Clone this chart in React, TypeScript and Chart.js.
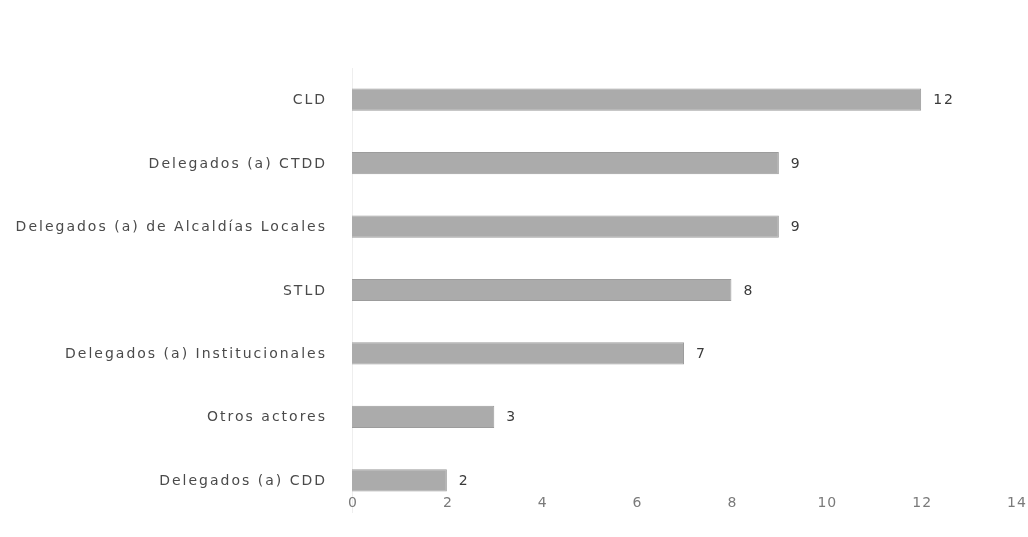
import React, { useEffect, useRef } from "react";
import { Chart, registerables } from "chart.js";

Chart.register(...registerables);

const categories = [
  "CLD",
  "Delegados (a) CTDD",
  "Delegados (a) de Alcaldías Locales",
  "STLD",
  "Delegados (a) Institucionales",
  "Otros actores",
  "Delegados (a) CDD",
];
const values = [12, 9, 9, 8, 7, 3, 2];
const xMin = 0;
const xMax = 14;
const xStep = 2;

const FONT = "'DejaVu Sans', sans-serif";

const textPlugin = {
  id: "textPlugin",
  afterDraw(chart: any) {
    const ctx = chart.ctx;
    const area = chart.chartArea;
    const xs = chart.scales.x;
    const ys = chart.scales.y;
    const meta = chart.getDatasetMeta(0);
    ctx.save();
    // category labels
    ctx.font = `14px ${FONT}`;
    (ctx as any).letterSpacing = "2px";
    ctx.fillStyle = "#4a4a4a";
    ctx.textAlign = "right";
    ctx.textBaseline = "middle";
    ys.ticks.forEach((t: any, i: number) => {
      const y = ys.getPixelForTick(i);
      ctx.fillText(String(categories[t.value] ?? t.label), area.left - 25, y + 1);
    });
    // value labels
    ctx.fillStyle = "#3a3a3a";
    ctx.textAlign = "left";
    meta.data.forEach((bar: any, i: number) => {
      ctx.fillText(String(values[i]), bar.x + 12, bar.y + 1);
    });
    // x tick labels
    ctx.fillStyle = "#7a7a7a";
    ctx.textAlign = "center";
    (ctx as any).letterSpacing = "1px";
    xs.ticks.forEach((t: any) => {
      const x = xs.getPixelForValue(t.value);
      ctx.fillText(String(t.value), x + 1, 503);
    });
    ctx.restore();
  },
};

export default function App() {
  const ref = useRef<HTMLCanvasElement | null>(null);
  useEffect(() => {
    if (!ref.current) return;
    const chart = new Chart(ref.current, {
      type: "bar",
      data: {
        labels: categories,
        datasets: [
          {
            data: values,
            backgroundColor: "#ababab",
            borderColor: "#9c9c9c",
            borderWidth: 1,
            barPercentage: 0.7,
            categoryPercentage: 0.5,
          },
        ],
      },
      options: {
        indexAxis: "y",
        animation: false,
        responsive: false,
        maintainAspectRatio: false,
        layout: { padding: { top: 68, right: 12, bottom: 25, left: 0 } },
        plugins: { legend: { display: false }, tooltip: { enabled: false } },
        scales: {
          x: {
            min: xMin,
            max: xMax,
            ticks: { stepSize: xStep, display: false },
            grid: { display: false, drawTicks: false },
            border: { display: false },
          },
          y: {
            ticks: { display: false },
            grid: { display: false, drawTicks: false },
            border: { display: true, color: "#eeeeee" },
            afterFit(scale: any) {
              scale.width = 352;
            },
          },
        },
      },
      plugins: [textPlugin],
    });
    return () => chart.destroy();
  }, []);
  return (
    <canvas
      ref={ref}
      width={1028}
      height={537}
      style={{ position: "absolute", left: 0, top: 0, width: 1028, height: 537, background: "#fff" }}
    />
  );
}
